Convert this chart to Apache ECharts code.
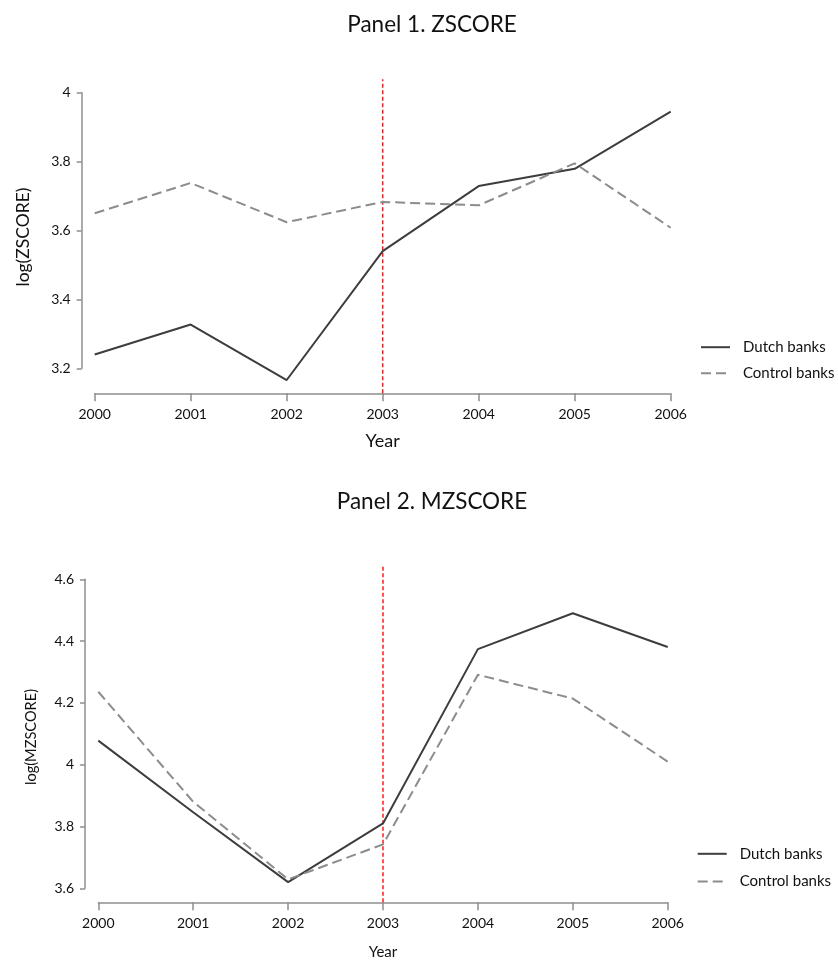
<!DOCTYPE html>
<html>
<head>
<meta charset="utf-8">
<script src="https://cdn.jsdelivr.net/npm/echarts@6/dist/echarts.min.js"></script>
<style>
  html, body { margin: 0; padding: 0; background: #fff; }
  #chart { width: 838px; height: 961px; }
</style>
</head>
<body>
<div id="chart"></div>
<script>
// ---- Data ----
const years = [2000, 2001, 2002, 2003, 2004, 2005, 2006];
const zscoreDutch   = [3.240, 3.327, 3.166, 3.540, 3.729, 3.779, 3.945];
const zscoreControl = [3.650, 3.738, 3.624, 3.683, 3.673, 3.795, 3.608];
const mzscoreDutch   = [4.078, 3.846, 3.620, 3.810, 4.374, 4.490, 4.381];
const mzscoreControl = [4.236, 3.880, 3.629, 3.742, 4.291, 4.214, 4.010];
const treatmentYear = 2003;
const panelTitles = ['Panel 1. ZSCORE', 'Panel 2. MZSCORE'];
const yNames = ['log(ZSCORE)', 'log(MZSCORE)'];
const yTicks1 = [3.2, 3.4, 3.6, 3.8, 4];
const yTicks2 = [3.6, 3.8, 4, 4.2, 4.4, 4.6];
const seriesNames = ['Dutch banks', 'Control banks'];

const FONT = 'Lato, "Open Sans", sans-serif';
const axisColor = '#8f8f8f';
const textColor = '#111111';
const dutchColor = '#3d3d3d';
const controlColor = '#8c8c8c';

const pair = (xs, ys) => xs.map((x, i) => [x, ys[i]]);

// layout per panel
const panels = [
  { grid: {left: 94.7, right: 167.3, top: 92.7, bottom: 592.7},
    refGrid: {left: 94.7, right: 167.3, top: 79.3, bottom: 567.7},
    ticks: yTicks1, xOffset: 25, yOffset: 13,
    xNameSize: 18, yNameSize: 17.5, xNameGap: 39, yNameGap: 49.5, yNamePad: [0, 13, 0, 0],
    title: {left: 427, top: 8, size: 22.5},
    legendTop: 339.7, legendLeft: 700, legendGap: 11,
    dutch: zscoreDutch, control: zscoreControl },
  { grid: {left: 98.3, right: 170.3, top: 579.3, bottom: 72.7},
    refGrid: {left: 98.3, right: 170.3, top: 565, bottom: 58.7},
    ticks: yTicks2, xOffset: 14, yOffset: 13.3,
    xNameSize: 15, yNameSize: 14.6, xNameGap: 42, yNameGap: 46, yNamePad: [0, 6.4, 0, 0],
    title: {left: 427, top: 485, size: 22.5},
    legendTop: 846.3, legendLeft: 696.7, legendGap: 12.7,
    dutch: mzscoreDutch, control: mzscoreControl }
];

const option = {
  animation: false,
  backgroundColor: '#fff',
  title: [], grid: [], xAxis: [], yAxis: [], series: [], legend: []
};

panels.forEach((p, i) => {
  const gi = i * 2, ri = i * 2 + 1;
  const t = p.ticks;
  option.title.push({
    text: panelTitles[i], left: p.title.left, top: p.title.top, textAlign: 'center',
    textStyle: {fontFamily: FONT, fontSize: p.title.size, fontWeight: 'normal', color: textColor}
  });
  option.grid.push(Object.assign({containLabel: false}, p.grid));
  option.grid.push(Object.assign({containLabel: false}, p.refGrid));
  option.xAxis.push({
    type: 'value', gridIndex: gi, min: years[0], max: years[years.length - 1], interval: 1,
    position: 'bottom', offset: p.xOffset,
    name: 'Year', nameLocation: 'middle', nameGap: p.xNameGap,
    nameTextStyle: {fontFamily: FONT, fontSize: p.xNameSize, color: textColor},
    axisLine: {show: true, lineStyle: {color: axisColor, width: 1.5}},
    axisTick: {show: true, length: 8, lineStyle: {color: axisColor, width: 1.5}},
    axisLabel: {fontFamily: FONT, fontSize: 14, color: textColor, margin: 14, formatter: v => String(v)},
    splitLine: {show: false}
  });
  option.xAxis.push({
    type: 'value', gridIndex: ri, min: years[0], max: years[years.length - 1], show: false
  });
  option.yAxis.push({
    type: 'value', gridIndex: gi, min: t[0], max: t[t.length - 1], interval: 0.2,
    offset: p.yOffset,
    name: yNames[i], nameLocation: 'middle', nameGap: p.yNameGap, nameRotate: 90,
    nameTextStyle: {fontFamily: FONT, fontSize: p.yNameSize, color: textColor, padding: p.yNamePad},
    axisLine: {show: true, lineStyle: {color: axisColor, width: 1.5}},
    axisTick: {show: true, length: 5, lineStyle: {color: axisColor, width: 1.5}},
    axisLabel: {fontFamily: FONT, fontSize: 14, color: textColor, margin: 11,
      formatter: v => String(Math.round(v * 10) / 10)},
    splitLine: {show: false}
  });
  option.yAxis.push({type: 'value', gridIndex: ri, min: 0, max: 1, show: false});

  option.series.push({
    name: seriesNames[0], type: 'line', xAxisIndex: gi, yAxisIndex: gi,
    data: pair(years, p.dutch), symbol: 'none', clip: false,
    lineStyle: {color: dutchColor, width: 2}, itemStyle: {color: dutchColor}
  });
  option.series.push({
    name: seriesNames[1], type: 'line', xAxisIndex: gi, yAxisIndex: gi,
    data: pair(years, p.control), symbol: 'none', clip: false,
    lineStyle: {color: controlColor, width: 2, type: [10, 5]}, itemStyle: {color: controlColor}
  });
  option.series.push({
    name: 'ref' + i, type: 'line', xAxisIndex: ri, yAxisIndex: ri,
    data: [[treatmentYear, 0], [treatmentYear, 1]], symbol: 'none', silent: true,
    lineStyle: {color: '#ff1a1a', width: 1.5, type: [4, 2.5]}, z: 1
  });
  option.legend.push({
    data: seriesNames, orient: 'vertical', left: p.legendLeft, top: p.legendTop,
    padding: 0, itemWidth: 29, itemHeight: 14, itemGap: p.legendGap,
    itemStyle: {color: 'rgba(0,0,0,0)', borderColor: 'rgba(0,0,0,0)', borderWidth: 0, opacity: 0},
    textStyle: {fontFamily: FONT, fontSize: 15, color: textColor, padding: [0, 0, 0, 8]},
    selectedMode: false
  });
});

const chart = echarts.init(document.getElementById('chart'), null, {renderer: 'canvas'});
chart.setOption(option);
</script>
</body>
</html>
